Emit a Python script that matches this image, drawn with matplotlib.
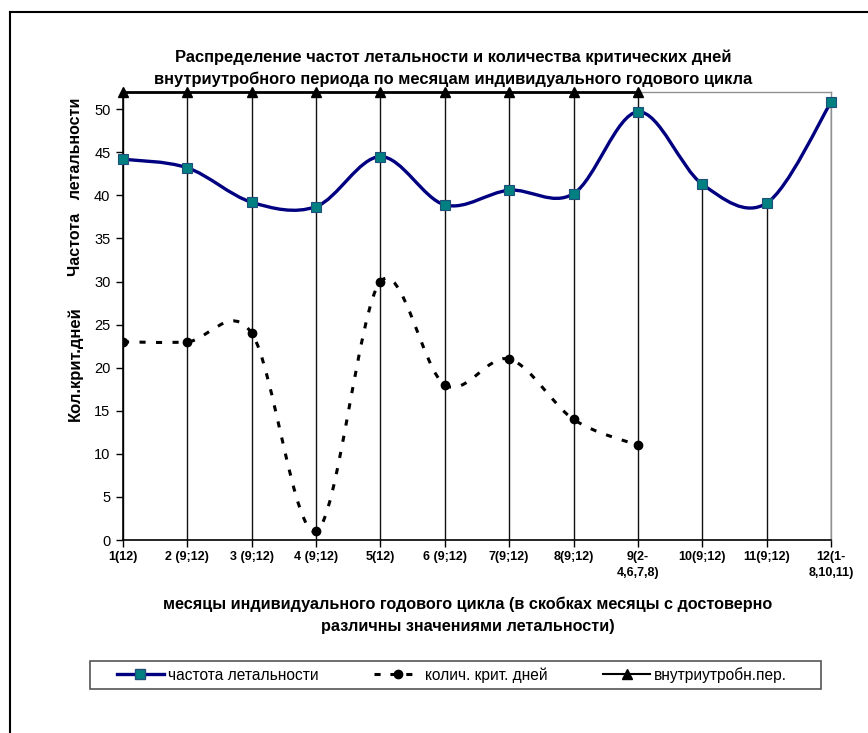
import matplotlib
matplotlib.use("Agg")
import matplotlib.pyplot as plt
from matplotlib.path import Path
from matplotlib.patches import PathPatch, Rectangle
from matplotlib.lines import Line2D
import numpy as np

plt.rcParams['font.family'] = ['Liberation Sans', 'DejaVu Sans']

# ---- data ----
categories = ["1(12)", "2 (9;12)", "3 (9;12)", "4 (9;12)", "5(12)", "6 (9;12)",
              "7(9;12)", "8(9;12)", "9(2-\n4,6,7,8)", "10(9;12)", "11(9;12)", "12(1-\n8,10,11)"]
lethality = [44.2, 43.2, 39.2, 38.7, 44.5, 38.9, 40.6, 40.2, 49.7, 41.3, 39.1, 50.8]
crit_days = [23, 23, 24, 1, 30, 18, 21, 14, 11]
intrauterine = [52, 52, 52, 52, 52, 52, 52, 52, 52]

title = ("Распределение частот летальности и количества критических дней\n"
         "внутриутробного периода по месяцам индивидуального годового цикла")
xlabel = ("месяцы индивидуального годового цикла (в скобках месяцы с достоверно\n"
          "различны значениями летальности)")
label_leth = "частота летальности"
label_crit = "колич. крит. дней"
label_intr = "внутриутробн.пер."


def smooth_path(xs, ys):
    n = len(xs)
    verts = [(xs[0], ys[0])]
    codes = [Path.MOVETO]
    for i in range(n - 1):
        a = i - 1 if i > 0 else i
        d = i + 2 if i + 2 < n else i + 1
        c1 = (xs[i] + (xs[i + 1] - xs[a]) / 6.0, ys[i] + (ys[i + 1] - ys[a]) / 6.0)
        c2 = (xs[i + 1] - (xs[d] - xs[i]) / 6.0, ys[i + 1] - (ys[d] - ys[i]) / 6.0)
        verts += [c1, c2, (xs[i + 1], ys[i + 1])]
        codes += [Path.CURVE4] * 3
    return Path(verts, codes)


W, H = 868, 733
fig = plt.figure(figsize=(W / 100, H / 100), dpi=100)
L, R, T, B = 123, 831, 92, 540
ax = fig.add_axes([L / W, 1 - B / H, (R - L) / W, (B - T) / H])

x_all = np.arange(len(categories))
x_crit = np.arange(len(crit_days))
x_intr = np.arange(len(intrauterine))

# drop lines
tops = []
for i in range(len(categories)):
    vals = [lethality[i]]
    if i < len(crit_days):
        vals.append(crit_days[i])
    if i < len(intrauterine):
        vals.append(intrauterine[i])
    tops.append(max(vals))
ax.vlines(x_all, 0, tops, colors='#111111', lw=1.0, zorder=1)

# intrauterine series
ax.plot(x_intr, intrauterine, color='black', lw=2.0, marker='^', ms=7,
        mfc='black', mec='black', clip_on=False, zorder=3)

# critical days (smoothed dashed)
p = smooth_path(list(x_crit), crit_days)
ax.add_patch(PathPatch(p, fill=False, ec='black', lw=2.2,
                       linestyle=(0, (2.0, 3.4)), capstyle='butt', zorder=2))
ax.plot(x_crit, crit_days, ls='none', marker='o', ms=6, color='black', zorder=4)

# lethality (smoothed)
p2 = smooth_path(list(x_all), lethality)
ax.add_patch(PathPatch(p2, fill=False, ec='#000080', lw=2.4, zorder=5))
ax.plot(x_all, lethality, ls='none', marker='s', ms=7, mfc='#008080',
        mec='#1f4f7a', mew=0.8, zorder=6, clip_on=False)

ax.set_xlim(0, len(categories) - 1)
ax.set_ylim(0, 52)
ax.set_yticks(np.arange(0, 51, 5))
ax.set_xticks(x_all)
ax.set_xticklabels(categories, fontsize=9, fontweight='bold', linespacing=1.45)
ax.tick_params(axis='y', direction='out', length=5, width=1, labelsize=10.5, pad=4)
ax.tick_params(axis='x', direction='out', length=5, width=1, pad=3)

for s in ['top', 'right']:
    ax.spines[s].set_color('#909090')
    ax.spines[s].set_linewidth(1.0)
for s in ['left', 'bottom']:
    ax.spines[s].set_color('black')
    ax.spines[s].set_linewidth(1.2)

# y-axis label (two parts)
fig.text(75 / W, 1 - 187 / H, "Частота   летальности", rotation=90, ha='center',
         va='center', fontsize=11.5, fontweight='bold')
fig.text(75 / W, 1 - 364 / H, "Кол.крит.дней", rotation=90, ha='center',
         va='center', fontsize=12, fontweight='bold')

# title
fig.text(453 / W, 1 - 68.5 / H, title, ha='center', va='center', fontsize=11.9,
         fontweight='bold', linespacing=1.55)

# x label
fig.text(468 / W, 1 - 615.5 / H, xlabel, ha='center', va='center', fontsize=11.7,
         fontweight='bold', linespacing=1.6)

# legend (frame drawn separately)
fig.add_artist(Rectangle((90 / W, 1 - 689 / H), (821 - 90) / W, 28 / H,
                         transform=fig.transFigure, fill=True, fc='white',
                         ec='#555555', lw=1.2, zorder=5))
handles = [
    Line2D([], [], color='#000080', lw=2.4, marker='s', ms=7, mfc='#008080', mec='#1f4f7a'),
    Line2D([], [], color='black', lw=2.2, ls=(0, (2.0, 3.2)), marker='o', ms=6),
    Line2D([], [], color='black', lw=1.5, marker='^', ms=7),
]
leg = fig.legend(handles, [label_leth, label_crit, label_intr], ncol=3,
                 loc='center', bbox_to_anchor=(452 / W, 1 - 675 / H),
                 frameon=False, fontsize=11.2, handlelength=3.0,
                 columnspacing=3.6, handletextpad=0.25, borderpad=0.2)
leg.set_zorder(6)

# outer chart frame
fig.add_artist(Line2D([10 / W, 10 / W], [0, 1 - 12 / H], color='black', lw=1.5,
                      transform=fig.transFigure))
fig.add_artist(Line2D([10 / W, 1], [1 - 12 / H, 1 - 12 / H], color='black', lw=1.5,
                      transform=fig.transFigure))

fig.savefig("out.png", dpi=100)
